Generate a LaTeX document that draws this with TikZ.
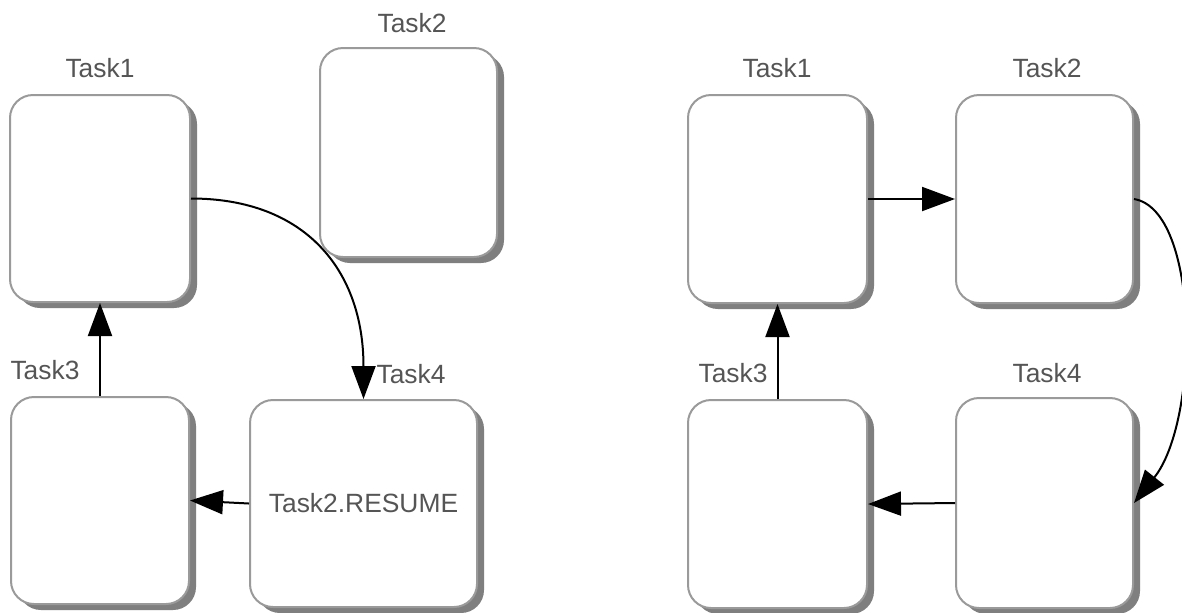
\documentclass[tikz,border=0pt]{standalone}
\usepackage{fontspec}
\setmainfont{Liberation Sans}
\usetikzlibrary{arrows.meta,shadows}
\definecolor{taskborder}{HTML}{9A9A9A}
\definecolor{taskshadow}{HTML}{7F7F7F}
\definecolor{labelgray}{HTML}{555555}
\begin{document}
\begin{tikzpicture}[x=0.5pt,y=-0.5pt,
  sz/.style 2 args={minimum width=#1*0.5pt, minimum height=#2*0.5pt},
  task/.style={draw=taskborder, line width=1pt, fill=white,
    rounded corners=11.5pt, inner sep=0pt,
    text=labelgray, font=\fontsize{13.2}{16}\selectfont,
    general shadow={fill=taskshadow, shadow xshift=3.5pt, shadow yshift=-3pt}},
  tlabel/.style={text=labelgray, font=\fontsize{13.2}{16}\selectfont, inner sep=0pt},
  link/.style={line width=1pt, -{Triangle[length=16.5pt,width=12pt]}}]

% page frame
\useasboundingbox (0,0) rectangle (1182,612);
\fill[white] (0,0) rectangle (1182,612);

% ---- left scheme ----
\node[task, sz={180}{207}] (L1) at (100,198.5) {};
\node[task, sz={177}{209}] (L2) at (408.5,152.5) {};
\node[task, sz={178}{207}] (L3) at (100,500.5) {};
\node[task, sz={227}{207}] (L4) at (363.5,503.5) {Task2.RESUME};

\node[tlabel] (L1t) at (100,68) {Task1};
\node[tlabel] (L2t) at (412,23) {Task2};
\node[tlabel] (L3t) at (45,370) {Task3};
\node[tlabel] (L4t) at (411,374) {Task4};

\draw[link] (L1.east) .. controls (305,198.5) and (363.5,270) .. (L4.north);
\draw[link] (L4.west) -- (L3.east);
\draw[link] (L3.north) -- (L1.south);

% ---- right scheme ----
\node[task, sz={179}{208}] (R1) at (777.5,199) {};
\node[task, sz={177}{208}] (R2) at (1044.5,199) {};
\node[task, sz={179}{208}] (R3) at (777.5,504) {};
\node[task, sz={177}{210}] (R4) at (1044.5,503) {};

\node[tlabel] (R1t) at (777,68) {Task1};
\node[tlabel] (R2t) at (1047,68) {Task2};
\node[tlabel] (R3t) at (733,373) {Task3};
\node[tlabel] (R4t) at (1047,373) {Task4};

\draw[link] (R1.east) -- (R2.west);
\draw[link] (R2.east) .. controls (1200,210) and (1200,420) .. (R4.east);
\draw[link] (R4.west) -- (R3.east);
\draw[link] (R3.north) -- (R1.south);
\end{tikzpicture}
\end{document}
